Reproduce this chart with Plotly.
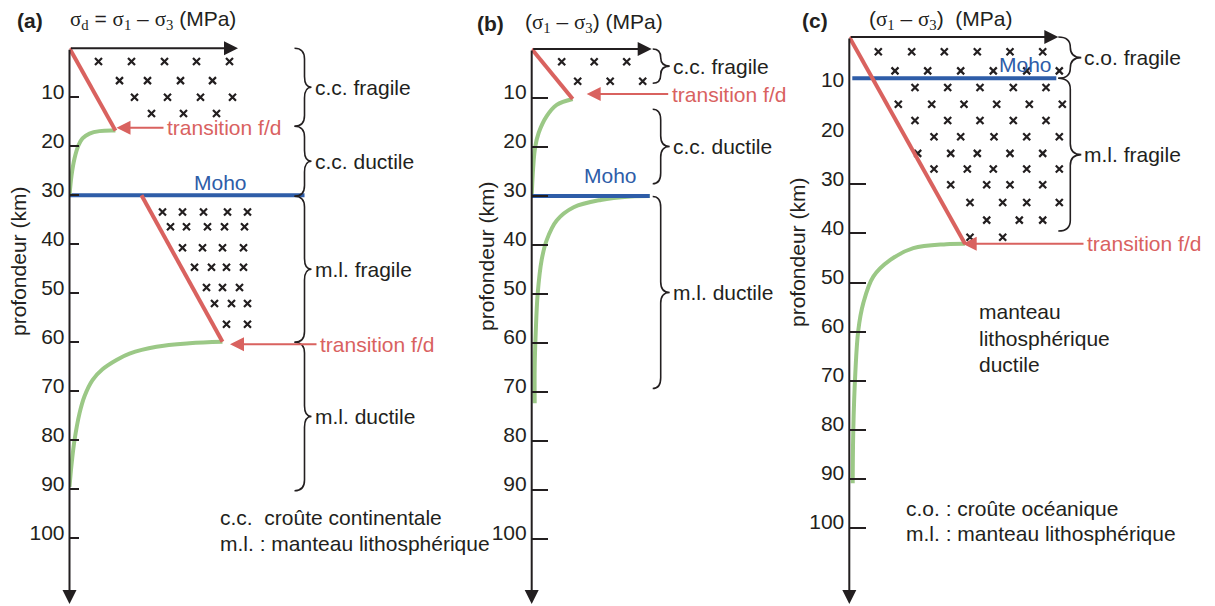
import plotly.graph_objects as go

W, H = 1215, 606
OFF = 8  # page body margin of the browser
DARK = '#231F20'
RED = '#D9625F'
GREEN = '#9BC886'
BLUE = '#2E5DA8'
FONT = 'Liberation Sans, Arial, sans-serif'
SERIF = 'Liberation Serif, Times New Roman, serif'
FS = 21

# ---------------- data (stress in arbitrary units, depth in km) ----------------
depth_ticks = [10, 20, 30, 40, 50, 60, 70, 80, 90, 100]

# panel (a) : continental lithosphere
a_red1_x = [0, 46]
a_red1_d = [0, 16.8]
a_green1_x = [46, 30, 20, 13, 9, 5, 2, 0]
a_green1_d = [16.8, 16.9, 17.4, 18.4, 19.8, 22.5, 26.0, 30.0]
a_moho_d = 30
a_moho_x = [0, 235]
a_red2_x = [72, 153]
a_red2_d = [30, 59.9]
a_green2_x = [153, 120, 87, 60, 47, 33, 23, 15, 10, 5, 2, 0]
a_green2_d = [59.9, 60.2, 60.9, 62.3, 63.6, 65.5, 67.7, 71, 74.5, 80, 85, 89.5]
a_cross_d = [2.7, 6.6, 10.0, 13.3, 33.4, 36.4, 40.7, 44.7, 48.8, 52.1, 56.3]
a_cross_x = [[29, 62, 95, 127, 160], [50, 78, 111, 143], [65, 98, 131, 163], [82, 114, 147],
             [93, 113, 134, 158, 178], [101, 117, 138, 155, 175], [113, 133, 153, 174],
             [125, 142, 157, 174], [137, 153, 170], [145, 162, 178], [157, 178]]
a_braces = [(0, 15.9), (15.9, 30.2), (30.2, 60.0), (60.0, 90.3)]
a_brace_labels = ['c.c. fragile', 'c.c. ductile', 'm.l. fragile', 'm.l. ductile']
a_trans = [(47, 16.2), (160.5, 60.4)]       # arrow heads (transition f/d)
a_trans_tail = [95.5, 248.5]

# panel (b) : thin / hot continental lithosphere
b_red_x = [0, 41]
b_red_d = [0, 10.2]
b_green1_x = [41, 25, 15, 7, 3.5, 1.5, 0]
b_green1_d = [10.2, 11.4, 13.7, 17.1, 20, 24.1, 30]
b_moho_d = 30
b_moho_x = [0, 118]
b_green2_x = [118, 99, 69, 42, 25, 15, 10, 6, 4, 3, 3]
b_green2_d = [30, 30.1, 30.8, 32.3, 35, 39, 43, 49.9, 58, 64.9, 72.3]
b_cross_d = [2.6, 6.6]
b_cross_x = [[30, 62.5, 95], [46, 78.5, 111]]
b_braces = [(0, 7.0), (12.3, 27.5), (30.1, 69.3)]
b_brace_labels = ['c.c. fragile', 'c.c. ductile', 'm.l. ductile']
b_trans = [(55, 9.2)]
b_trans_tail = [138]

# panel (c) : oceanic lithosphere
c_red_x = [0, 115.7]
c_red_d = [0, 42.1]
c_green_x = [115.7, 97, 64, 41, 24, 14, 9, 6, 4, 3.4]
c_green_d = [42.1, 42.2, 43, 45.4, 48.8, 54.2, 59.7, 68.5, 80, 90.9]
c_moho_d = 8.4
c_moho_x = [3, 207]
c_cross_d = [3.0, 6.9, 10.3, 13.7, 17.0, 20.3, 23.7, 26.9, 30.1, 33.7, 37.3, 40.8]
c_cross_x = [[29, 62.4, 95, 128, 160.7, 193.4], [45.7, 78.4, 111.4, 144, 177.4, 210],
             [65.7, 98.4, 130.7, 164, 196.7], [49, 82.4, 114.7, 147.4, 180, 213],
             [65.7, 98.4, 130.7, 164, 196.7], [84.7, 111.4, 144.7, 177.4, 210],
             [68.4, 101.4, 128, 160.7, 193.4], [84.7, 118, 144, 177.4, 210],
             [101.4, 137.4, 160.7, 193.4], [120.7, 153.4, 177.4, 210],
             [137.4, 170, 193.4], [120.7, 153.4]]
c_braces = [(0, 8.4), (8.4, 39.5)]
c_brace_labels = ['c.o. fragile', 'm.l. fragile']
c_trans = [(113.4, 42.1)]
c_trans_tail = [235.7]


def sig(sub):
    return f'<span style="font-family:{SERIF}">σ<sub>{sub}</sub></span>'


# ---------------- layout geometry (screen pixels) ----------------
PANEL = {
    'a': dict(xa='x', ya='y', x0=69.5, y0=48.3, s=4.9, L=440, tl=9, xtip=168.5, brace_x=235,
              tw=7, wl=10, title_pos=(30, 20), stitle_x=68,
              stitle=f'{sig("d")} = {sig("1")} – {sig("3")} (MPa)', ytitle=(18, 262)),
    'b': dict(xa='x2', ya='y2', x0=531.7, y0=49.0, s=4.9, L=300, tl=16, xtip=120, brace_x=129,
              tw=9, wl=8, title_pos=(490, 23), stitle_x=523,
              stitle=f'({sig("1")} – {sig("3")}) (MPa)', ytitle=(487, 257)),
    'c': dict(xa='x3', ya='y3', x0=849.3, y0=37.0, s=4.91, L=352, tl=17, xtip=209, brace_x=221,
              tw=11, wl=12, title_pos=(815, 20), stitle_x=867,
              stitle=f'({sig("1")} – {sig("3")})  (MPa)', ytitle=(797, 253)),
}


def px(x):
    return (x - OFF) / W


def py(y):
    return 1 - (y - OFF) / H


fig = go.Figure()
annotations = []
shapes = []


def line(p, xs, ds, color, width=4, spline=False):
    fig.add_trace(go.Scatter(
        x=xs, y=ds, xaxis=PANEL[p]['xa'], yaxis=PANEL[p]['ya'], mode='lines',
        line=dict(color=color, width=width, shape='spline' if spline else 'linear', smoothing=1.0),
        hoverinfo='skip', showlegend=False))


def crosses(p, rows_d, rows_x):
    xs, ds = [], []
    for d, row in zip(rows_d, rows_x):
        for x in row:
            xs.append(x)
            ds.append(d)
    fig.add_trace(go.Scatter(
        x=xs, y=ds, xaxis=PANEL[p]['xa'], yaxis=PANEL[p]['ya'], mode='markers',
        marker=dict(symbol='x-thin', size=7, line=dict(color=DARK, width=2.2)),
        hoverinfo='skip', showlegend=False))


def brace(p, d0, d1, label):
    P = PANEL[p]
    xv, wl, wt = P['brace_x'], P['wl'], P['tw']
    r = min(2.2, (d1 - d0) / 4)
    dm = (d0 + d1) / 2
    path = (f"M {xv - wl},{d0} Q {xv},{d0} {xv},{d0 + r} L {xv},{dm - r} "
            f"Q {xv},{dm} {xv + wt},{dm} Q {xv},{dm} {xv},{dm + r} "
            f"L {xv},{d1 - r} Q {xv},{d1} {xv - wl},{d1}")
    shapes.append(dict(type='path', path=path, xref=P['xa'], yref=P['ya'],
                       line=dict(color=DARK, width=1.6)))
    annotations.append(dict(x=xv + wt + 1, y=dm, xref=P['xa'], yref=P['ya'], text=label,
                            showarrow=False, xanchor='left', yanchor='middle',
                            font=dict(size=FS, color=DARK, family=FONT)))


def transition(p, head, tail):
    P = PANEL[p]
    annotations.append(dict(x=head[0], y=head[1], ax=tail, ay=head[1], xref=P['xa'], yref=P['ya'],
                            axref=P['xa'], ayref=P['ya'], text='', showarrow=True,
                            arrowhead=2, arrowsize=1.4, arrowwidth=2, arrowcolor=RED))
    annotations.append(dict(x=tail, y=head[1], xref=P['xa'], yref=P['ya'],
                            text='transition f/d', showarrow=False, xanchor='left',
                            yanchor='middle', font=dict(size=FS, color=RED, family=FONT)))


def moho_label(p, x, d):
    P = PANEL[p]
    annotations.append(dict(x=x, y=d, xref=P['xa'], yref=P['ya'], text='Moho', showarrow=False,
                            xanchor='center', yanchor='middle',
                            font=dict(size=FS, color=BLUE, family=FONT)))


def text(p, x, d, t, color=DARK):
    P = PANEL[p]
    annotations.append(dict(x=x, y=d, xref=P['xa'], yref=P['ya'], text=t, showarrow=False,
                            xanchor='left', yanchor='middle',
                            font=dict(size=FS, color=color, family=FONT)))


# ---------- panel (a)
crosses('a', a_cross_d, a_cross_x)
line('a', a_moho_x, [a_moho_d] * len(a_moho_x), BLUE)
line('a', a_green1_x, a_green1_d, GREEN, spline=True)
line('a', a_green2_x, a_green2_d, GREEN, spline=True)
line('a', a_red1_x, a_red1_d, RED)
line('a', a_red2_x, a_red2_d, RED)
for (d0, d1), lab in zip(a_braces, a_brace_labels):
    brace('a', d0, d1, lab)
for h, t in zip(a_trans, a_trans_tail):
    transition('a', h, t)
moho_label('a', 150.5, 27.3)
text('a', 148.5, 95.7, 'c.c.  croûte continentale')
text('a', 148.5, 101.0, 'm.l. : manteau lithosphérique')

# ---------- panel (b)
crosses('b', b_cross_d, b_cross_x)
line('b', b_green1_x, b_green1_d, GREEN, spline=True)
line('b', b_green2_x, b_green2_d, GREEN, spline=True)
line('b', b_moho_x, [b_moho_d] * len(b_moho_x), BLUE)
line('b', b_red_x, b_red_d, RED)
for (d0, d1), lab in zip(b_braces, b_brace_labels):
    brace('b', d0, d1, lab)
for h, t in zip(b_trans, b_trans_tail):
    transition('b', h, t)
moho_label('b', 78.3, 25.9)

# ---------- panel (c)
crosses('c', c_cross_d, c_cross_x)
line('c', c_moho_x, [c_moho_d] * len(c_moho_x), BLUE)
line('c', c_green_x, c_green_d, GREEN, spline=True)
line('c', c_red_x, c_red_d, RED)
for (d0, d1), lab in zip(c_braces, c_brace_labels):
    brace('c', d0, d1, lab)
for h, t in zip(c_trans, c_trans_tail):
    transition('c', h, t)
moho_label('c', 175.7, 5.7)
text('c', 127.4, 55.9, 'manteau')
text('c', 127.4, 61.4, 'lithosphérique')
text('c', 127.4, 66.6, 'ductile')
text('c', 55, 96.0, 'c.o. : croûte océanique')
text('c', 55, 101.2, 'm.l. : manteau lithosphérique')

# ---------- axes
layout = dict(width=W, height=H, margin=dict(l=0, r=0, t=0, b=0, autoexpand=False),
              paper_bgcolor='white', plot_bgcolor='rgba(0,0,0,0)', showlegend=False,
              font=dict(family=FONT, size=FS, color=DARK))

for key, P in PANEL.items():
    xname = 'xaxis' + P['xa'][1:]
    yname = 'yaxis' + P['ya'][1:]
    top_extra = 3
    d_bottom = (H + OFF - P['y0']) / P['s']
    layout[xname] = dict(domain=[px(P['x0']), px(P['x0'] + P['L'])], range=[0, P['L']],
                         visible=False, anchor=P['ya'], fixedrange=True)
    yvals = depth_ticks if key != 'c' else depth_ticks[2:]
    layout[yname] = dict(domain=[0, py(P['y0'] - top_extra * P['s'])],
                         range=[d_bottom, -top_extra], anchor=P['xa'],
                         showline=False, zeroline=False, showgrid=False,
                         tickmode='array', tickvals=yvals, ticktext=[str(v) for v in yvals],
                         ticks='inside', ticklen=P['tl'], tickwidth=2, tickcolor=DARK,
                         tickfont=dict(size=FS, color=DARK, family=FONT),
                         ticklabelstandoff=4, ticklabelshift=6, fixedrange=True)
    # axis arrows
    annotations.append(dict(x=P['xtip'], y=0, ax=0, ay=0, xref=P['xa'], yref=P['ya'],
                            axref=P['xa'], ayref=P['ya'], text='', showarrow=True,
                            arrowhead=2, arrowsize=1.4, arrowwidth=2, arrowcolor=DARK))
    annotations.append(dict(x=0, y=(604 - P['y0']) / P['s'], ax=0, ay=0, xref=P['xa'],
                            yref=P['ya'], axref=P['xa'], ayref=P['ya'], text='', showarrow=True,
                            arrowhead=2, arrowsize=1.4, arrowwidth=2, arrowcolor=DARK))
    # titles
    annotations.append(dict(x=px(P['title_pos'][0]), y=py(P['title_pos'][1]), xref='paper',
                            yref='paper', text='<b>(' + key + ')</b>', showarrow=False,
                            xanchor='center', yanchor='middle',
                            font=dict(size=FS, color=DARK, family=FONT)))
    annotations.append(dict(x=px(P['stitle_x']), y=py(P['title_pos'][1]), xref='paper',
                            yref='paper', text=P['stitle'], showarrow=False,
                            xanchor='left', yanchor='middle',
                            font=dict(size=FS, color=DARK, family=FONT)))
    annotations.append(dict(x=px(P['ytitle'][0]), y=py(P['ytitle'][1]), xref='paper',
                            yref='paper', text='profondeur (km)', textangle=-90,
                            showarrow=False, xanchor='center', yanchor='middle',
                            font=dict(size=FS, color=DARK, family=FONT)))

# overlay axis for (c): labels 10 and 20 without tick marks
Pc = PANEL['c']
layout['yaxis4'] = dict(overlaying='y3', anchor='x3', side='left',
                        range=[(H + OFF - Pc['y0']) / Pc['s'], -3],
                        showline=False, zeroline=False, showgrid=False,
                        tickmode='array', tickvals=depth_ticks[:2],
                        ticktext=[str(v) for v in depth_ticks[:2]], ticks='',
                        tickfont=dict(size=FS, color=DARK, family=FONT),
                        ticklabelstandoff=4, ticklabelshift=6, fixedrange=True)
fig.add_trace(go.Scatter(x=[None], y=[None], xaxis='x3', yaxis='y4', showlegend=False))

layout['annotations'] = annotations
layout['shapes'] = shapes
fig.update_layout(**layout)
fig.write_html('out.html')
